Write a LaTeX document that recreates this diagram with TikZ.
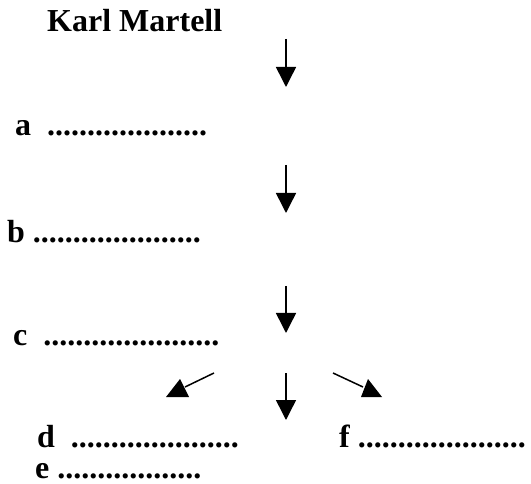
\documentclass[tikz,border=0pt]{standalone}
\usepackage{fontspec}
\setmainfont{Liberation Serif}
\usetikzlibrary{arrows.meta}
\begin{document}
\begin{tikzpicture}[x=1pt,y=-1pt,
  lbl/.style={anchor=base west,inner sep=0pt,font=\fontsize{32}{38}\selectfont\bfseries},
  down/.style={line width=1.5pt,-{Triangle[length=20pt,width=20pt]}},
  diag/.style={line width=1.5pt},
  head/.style={fill=black}]
\useasboundingbox (0,0) rectangle (531,484);
\node[lbl] (title) at (47,32) {Karl Martell};
\node[lbl] (a) at (15,136) {a\ \ ....................};
\node[lbl] (b) at (7,243) {b\ .....................};
\node[lbl] (c) at (13,345) {c\ \ ......................};
\node[lbl] (d) at (37,447) {d\ \ .....................};
\node[lbl] (e) at (35,478) {e\ ..................};
\node[lbl] (f) at (339,447) {f\ .....................};
\coordinate (s1) at (286,39);  \coordinate (t1) at (286,87);
\coordinate (s2) at (286,165); \coordinate (t2) at (286,213);
\coordinate (s3) at (286,286); \coordinate (t3) at (286,333);
\coordinate (s4) at (286,373); \coordinate (t4) at (286,420);
\draw[down] (s1) -- (t1);
\draw[down] (s2) -- (t2);
\draw[down] (s3) -- (t3);
\draw[down] (s4) -- (t4);
\coordinate (l1) at (214,373); \coordinate (l2) at (185,387);
\coordinate (r1) at (333,373); \coordinate (r2) at (363,387);
\draw[diag] (l1) -- (l2);
\fill[head] (166,397) -- (189,397) -- (180,379) -- cycle;
\draw[diag] (r1) -- (r2);
\fill[head] (361,397) -- (382,397) -- (368,379) -- cycle;
\end{tikzpicture}
\end{document}
